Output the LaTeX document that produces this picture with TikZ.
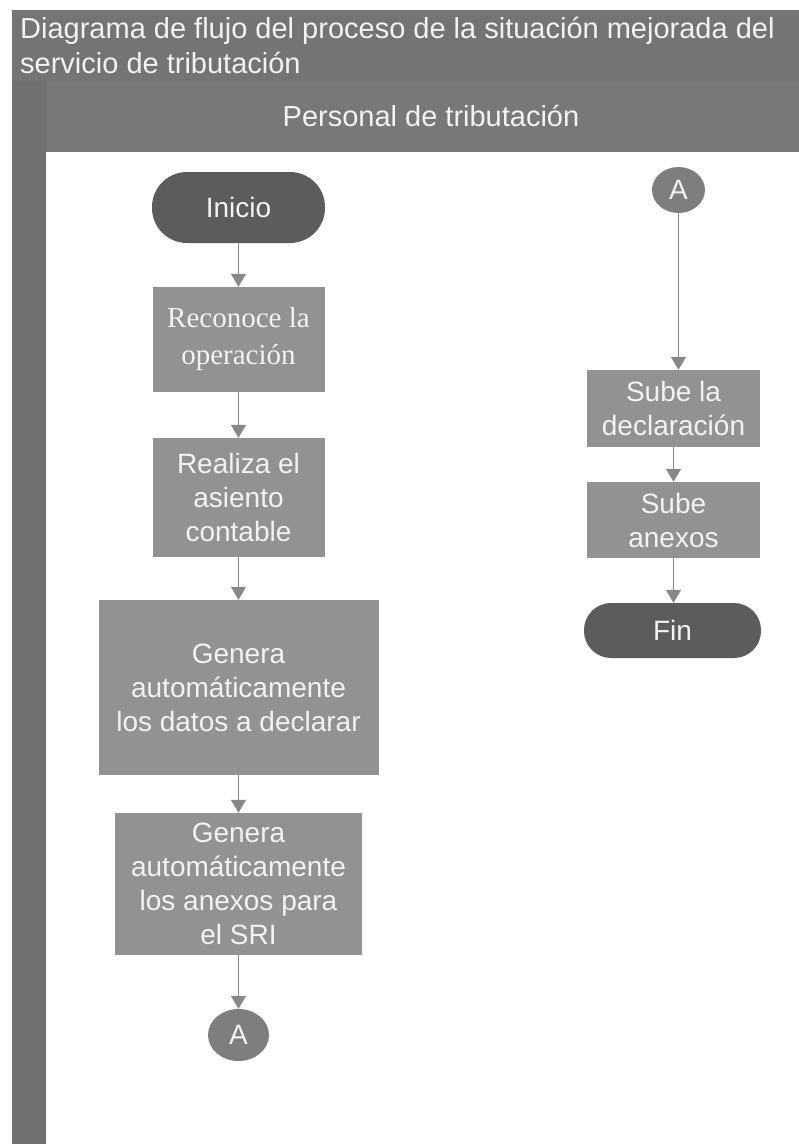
\documentclass[tikz,border=0pt]{standalone}
\usepackage{fontspec}
\setmainfont{Liberation Sans}
\newfontfamily\boxserif{Liberation Serif}
\usetikzlibrary{shapes.geometric,arrows.meta}

\definecolor{bandgray}{RGB}{116,116,116}
\definecolor{headgray}{RGB}{120,120,120}
\definecolor{poolgray}{RGB}{112,112,112}
\definecolor{stepgray}{RGB}{146,146,146}
\definecolor{termgray}{RGB}{92,92,92}
\definecolor{linkgray}{RGB}{126,126,126}
\definecolor{arrowgray}{RGB}{136,136,136}
\definecolor{textwhite}{RGB}{242,242,242}

\tikzset{
  stepbox/.style={rectangle, fill=stepgray, text=textwhite, align=center,
    inner sep=0pt, font=\fontsize{28}{34}\selectfont},
  termbox/.style={rectangle, rounded corners=27pt, fill=termgray, text=textwhite,
    align=center, inner sep=0pt, font=\fontsize{28}{34}\selectfont},
  linkbox/.style={ellipse, fill=linkgray, text=textwhite, inner sep=0pt,
    font=\fontsize{28}{34}\selectfont},
  flow/.style={draw=arrowgray, line width=1.4pt,
    -{Triangle[width=15pt,length=13pt,fill=arrowgray]}},
}

\begin{document}
\begin{tikzpicture}[x=1pt,y=-1pt]
  \useasboundingbox (0,0) rectangle (799,1144);
  \fill[white] (0,0) rectangle (799,1144);

  % pool frame: title band, lane header and left bar
  \fill[bandgray] (12,10) rectangle (799,80);
  \fill[poolgray] (12,80) rectangle (46,1144);
  \fill[headgray] (46,80) rectangle (799,152);
  \draw[black!55, line width=0.8pt] (12,80) -- (799,80);
  \draw[black!55, line width=0.8pt] (46,80) -- (46,152);

  \node[anchor=north west, inner sep=0pt, align=left, text=textwhite,
        font=\fontsize{29}{35}\selectfont] (title) at (20,17)
    {Diagrama de flujo del proceso de la situación mejorada del\\servicio de tributación};
  \node[text=textwhite, inner sep=0pt, font=\fontsize{29}{35}\selectfont]
    (lane) at (431,116) {Personal de tributación};

  % left column
  \node[termbox, minimum width=173pt, minimum height=71pt, rounded corners=35pt]
    (inicio) at (238.5,207.5) {Inicio};
  \node[stepbox, minimum width=172pt, minimum height=105pt,
        font=\boxserif\fontsize{29}{37}\selectfont]
    (reconoce) at (238.5,339.5) {Reconoce la\\operación};
  \node[stepbox, minimum width=172pt, minimum height=119pt]
    (asiento) at (238.5,497.5) {Realiza el\\asiento\\contable};
  \node[stepbox, minimum width=280pt, minimum height=175pt]
    (datos) at (238.5,687.5) {Genera\\automáticamente\\los datos a declarar};
  \node[stepbox, minimum width=247pt, minimum height=142pt]
    (anexos) at (238.5,884) {Genera\\automáticamente\\los anexos para\\el SRI};
  \node[linkbox, minimum width=61pt, minimum height=52pt]
    (aout) at (238.5,1035) {A};

  % right column
  \node[linkbox, minimum width=53pt, minimum height=46pt]
    (ain) at (678.5,190) {A};
  \node[stepbox, minimum width=173pt, minimum height=77pt]
    (declaracion) at (673.5,408.5) {Sube la\\declaración};
  \node[stepbox, minimum width=173pt, minimum height=76pt]
    (subeanexos) at (673.5,520) {Sube\\anexos};
  \node[termbox, minimum width=177pt, minimum height=55pt]
    (fin) at (672.5,630.5) {Fin};

  % connectors
  \draw[flow] (inicio) -- (reconoce);
  \draw[flow] (reconoce) -- (asiento);
  \draw[flow] (asiento) -- (datos);
  \draw[flow] (datos) -- (anexos);
  \draw[flow] (anexos) -- (aout);
  \draw[flow] (ain) -- (ain |- declaracion.north);
  \draw[flow] (declaracion) -- (subeanexos);
  \draw[flow] (subeanexos) -- (subeanexos |- fin.north);
\end{tikzpicture}
\end{document}
